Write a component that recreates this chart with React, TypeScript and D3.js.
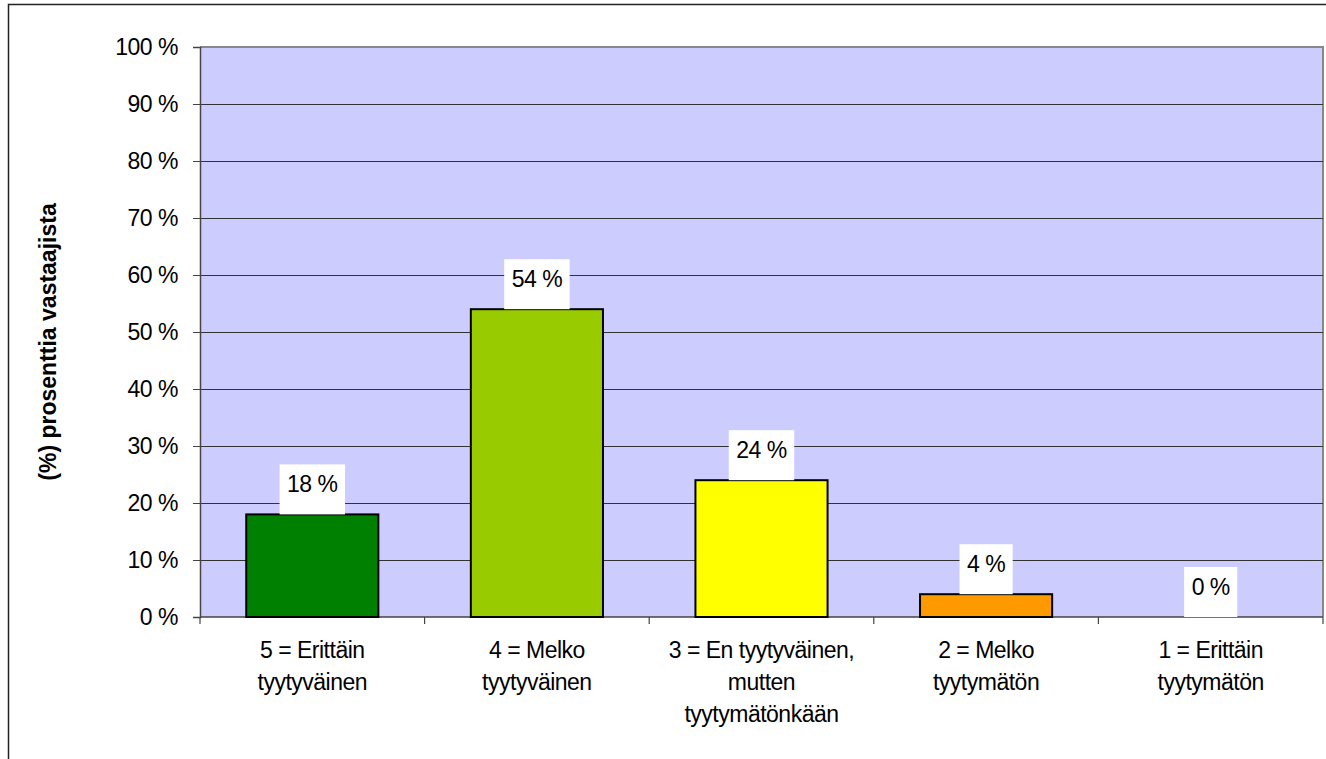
import { useEffect, useRef } from 'react'
import * as d3 from 'd3'

const categories = [
  ['5 = Erittäin', 'tyytyväinen'],
  ['4 = Melko', 'tyytyväinen'],
  ['3 = En tyytyväinen,', 'mutten', 'tyytymätönkään'],
  ['2 = Melko', 'tyytymätön'],
  ['1 = Erittäin', 'tyytymätön'],
]
const values = [18, 54, 24, 4, 0]
const barColors = ['#008000', '#99cc00', '#ffff00', '#ff9900', '#ffffff']
const yTicks = [0, 10, 20, 30, 40, 50, 60, 70, 80, 90, 100]
const yTitle = '(%) prosenttia vastaajista'

export default function App() {
  const ref = useRef<SVGSVGElement>(null)

  useEffect(() => {
    if (!ref.current) return
    const el = ref.current
    const width = 1326
    const height = 759
    const plot = { left: 200, top: 47, right: 1323, bottom: 617 }
    const font = '"Liberation Sans", Arial, sans-serif'
    const fs = '23px'
    const ls = '-0.5px'

    d3.select(el).selectAll('*').remove()
    const svg = d3.select(el).attr('width', width).attr('height', height)

    // outer chart border
    svg.append('rect')
      .attr('x', 8.5).attr('y', 4.5)
      .attr('width', width).attr('height', height)
      .attr('fill', '#fff').attr('stroke', '#222').attr('stroke-width', 1.5)

    const keys = categories.map((_, i) => String(i))
    const x = d3.scaleBand().domain(keys).range([plot.left, plot.right]).padding(0)
    const y = d3.scaleLinear().domain([0, 100]).range([plot.bottom, plot.top])
    const barW = x.bandwidth() / 1.7

    // plot area
    svg.append('rect')
      .attr('x', plot.left).attr('y', plot.top)
      .attr('width', plot.right - plot.left).attr('height', plot.bottom - plot.top)
      .attr('fill', '#ccccff')
    svg.append('path')
      .attr('d', `M${plot.left},${plot.top}H${plot.right}V${plot.bottom}`)
      .attr('fill', 'none').attr('stroke', '#888').attr('stroke-width', 2)

    // gridlines
    svg.append('g')
      .selectAll('line')
      .data(yTicks.filter(t => t > 0 && t < 100))
      .join('line')
      .attr('x1', plot.left).attr('x2', plot.right)
      .attr('y1', d => Math.round(y(d)) + 0.5).attr('y2', d => Math.round(y(d)) + 0.5)
      .attr('stroke', '#333').attr('stroke-width', 1)

    // y axis
    const ya = svg.append('g')
      .attr('transform', `translate(${plot.left},0)`)
      .call(d3.axisLeft(y).tickValues(yTicks).tickSize(7).tickPadding(15).tickFormat(d => `${d} %`))
    ya.select('.domain').attr('stroke', '#444').attr('stroke-width', 1.5)
    ya.selectAll('line').attr('stroke', '#444')
    ya.selectAll('text').attr('font-family', font).attr('font-size', fs)
      .attr('letter-spacing', ls).attr('fill', '#000')

    // x axis
    svg.append('line')
      .attr('x1', plot.left).attr('x2', plot.right)
      .attr('y1', plot.bottom).attr('y2', plot.bottom)
      .attr('stroke', '#444').attr('stroke-width', 1.5)
    svg.append('g')
      .selectAll('line')
      .data(keys.concat(['end']))
      .join('line')
      .attr('x1', (_, i) => plot.left + i * x.step()).attr('x2', (_, i) => plot.left + i * x.step())
      .attr('y1', plot.bottom).attr('y2', plot.bottom + 7)
      .attr('stroke', '#444').attr('stroke-width', 1.2)

    const lbl = svg.append('g')
    categories.forEach((lines, i) => {
      const cx = x(String(i))! + x.bandwidth() / 2
      const t = lbl.append('text')
        .attr('x', cx).attr('y', 658)
        .attr('text-anchor', 'middle')
        .attr('font-family', font).attr('font-size', fs)
        .attr('letter-spacing', ls).attr('fill', '#000')
      lines.forEach((ln, j) => {
        t.append('tspan').attr('x', cx).attr('y', 658 + j * 32).text(ln)
      })
    })

    // bars
    svg.append('g')
      .selectAll('rect')
      .data(values)
      .join('rect')
      .filter(d => d > 0)
      .attr('x', (_, i) => x(String(i))! + (x.bandwidth() - barW) / 2)
      .attr('y', d => y(d))
      .attr('width', barW)
      .attr('height', d => y(0) - y(d))
      .attr('fill', (_, i) => barColors[i])
      .attr('stroke', '#000').attr('stroke-width', 2)

    // data labels
    const dl = svg.append('g')
    values.forEach((v, i) => {
      const cx = x(String(i))! + x.bandwidth() / 2
      const top = y(v) - 50
      const bg = dl.append('rect').attr('fill', '#fff')
      const t = dl.append('text')
        .attr('x', cx).attr('y', top + 28)
        .attr('text-anchor', 'middle')
        .attr('font-family', font).attr('font-size', fs)
        .attr('letter-spacing', ls).attr('fill', '#000')
        .text(`${v} %`)
      const w = (t.node() as SVGTextElement).getComputedTextLength() + 15
      bg.attr('x', cx - w / 2).attr('y', top).attr('width', w).attr('height', 50)
    })

    // y title
    svg.append('text')
      .attr('transform', `translate(56,342) rotate(-90)`)
      .attr('text-anchor', 'middle')
      .attr('font-family', font).attr('font-size', '23px').attr('font-weight', 'bold')
      .attr('fill', '#000')
      .text(yTitle)
  }, [])

  return <svg ref={ref} style={{ position: 'absolute', left: 0, top: 0, display: 'block' }} />
}
